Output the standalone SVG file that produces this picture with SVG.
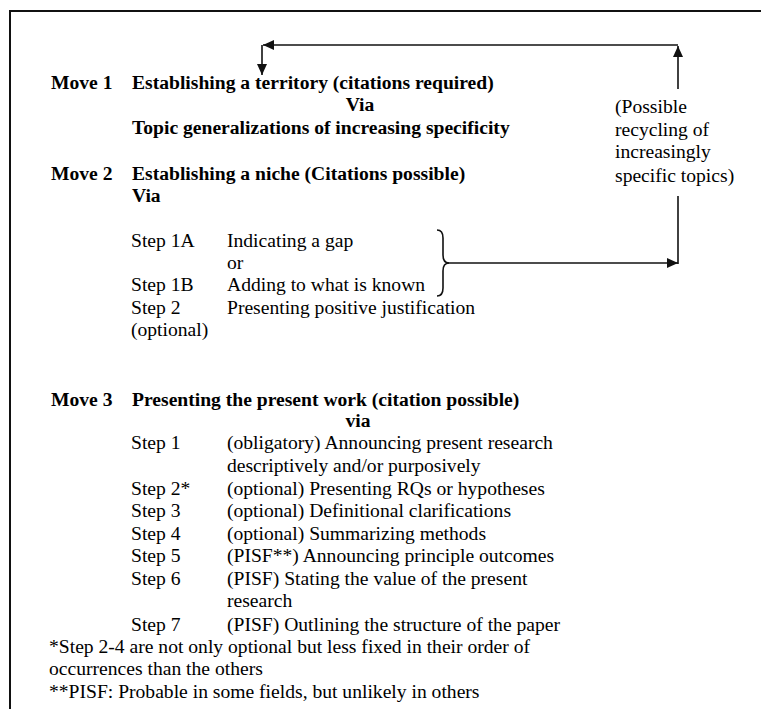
<svg xmlns="http://www.w3.org/2000/svg" width="761" height="709" viewBox="0 0 761 709">
<defs>
<style>
text{font-family:"Liberation Serif","Times New Roman",serif;font-size:19.6px;fill:#000}
.b{font-weight:bold}
.ln{fill:none;stroke:#111;stroke-width:1.6}
</style>
<marker id="ah" markerUnits="userSpaceOnUse" markerWidth="12" markerHeight="10" refX="11" refY="5" orient="auto">
<path d="M0,0 L11,5 L0,10 Z" fill="#111"/>
</marker>
</defs>
<rect width="761" height="709" fill="#fff"/>
<g id="frame"><path d="M10,709 V11 H761" fill="none" stroke="#111" stroke-width="2"/></g>
<g id="connectors">
<path class="ln" d="M678,89 V46" marker-end="url(#ah)"/>
<path class="ln" d="M678,45 H263" marker-end="url(#ah)"/>
<path class="ln" d="M262,45 V75" marker-end="url(#ah)"/>
<path class="ln" d="M678,196 V264"/>
<path class="ln" d="M448,263 H678" marker-end="url(#ah)"/>
<path class="ln" d="M437,230 Q443,230 443,238 V255 Q443,263 449,263 Q443,263 443,271 V288 Q443,296 437,296"/>
</g>
<g id="move1">
<text class="b" x="51" y="89">Move 1</text>
<text class="b" x="132" y="89">Establishing a territory (citations required)</text>
<text class="b" x="360" y="111" text-anchor="middle">Via</text>
<text class="b" x="132" y="134">Topic generalizations of increasing specificity</text>
</g>
<g id="recycling">
<text x="615" y="113">(Possible</text>
<text x="615" y="136">recycling of</text>
<text x="615" y="158">increasingly</text>
<text x="615" y="182">specific topics)</text>
</g>
<g id="move2">
<text class="b" x="51" y="180">Move 2</text>
<text class="b" x="132" y="180">Establishing a niche (Citations possible)</text>
<text class="b" x="132" y="202">Via</text>
<text x="131" y="247">Step 1A</text><text x="227" y="247">Indicating a gap</text>
<text x="227" y="269">or</text>
<text x="131" y="291">Step 1B</text><text x="227" y="291">Adding to what is known</text>
<text x="131" y="314">Step 2</text><text x="227" y="314">Presenting positive justification</text>
<text x="131" y="336">(optional)</text>
</g>
<g id="move3">
<text class="b" x="51" y="406">Move 3</text>
<text class="b" x="132" y="406">Presenting the present work (citation possible)</text>
<text class="b" x="358" y="427" text-anchor="middle">via</text>
<text x="131" y="449">Step 1</text><text x="227" y="449">(obligatory) Announcing present research</text>
<text x="227" y="472">descriptively and/or purposively</text>
<text x="131" y="495">Step 2*</text><text x="227" y="495">(optional) Presenting RQs or hypotheses</text>
<text x="131" y="517">Step 3</text><text x="227" y="517">(optional) Definitional clarifications</text>
<text x="131" y="540">Step 4</text><text x="227" y="540">(optional) Summarizing methods</text>
<text x="131" y="562">Step 5</text><text x="227" y="562">(PISF**) Announcing principle outcomes</text>
<text x="131" y="585">Step 6</text><text x="227" y="585">(PISF) Stating the value of the present</text>
<text x="227" y="607">research</text>
<text x="131" y="631">Step 7</text><text x="227" y="631">(PISF) Outlining the structure of the paper</text>
</g>
<g id="notes">
<text x="49" y="653">*Step 2-4 are not only optional but less fixed in their order of</text>
<text x="49" y="675">occurrences than the others</text>
<text x="49" y="698">**PISF: Probable in some fields, but unlikely in others</text>
</g>
</svg>
